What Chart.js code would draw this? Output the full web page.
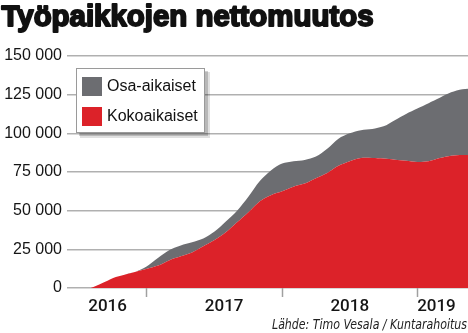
<!DOCTYPE html>
<html>
<head>
<meta charset="utf-8">
<script src="https://cdn.jsdelivr.net/npm/chart.js@4.4.1/dist/chart.umd.min.js"></script>
<style>
  html, body { margin: 0; padding: 0; background: #fff; }
  #wrap { position: relative; width: 468px; height: 333px; }
  canvas { display: block; }
</style>
</head>
<body>
<div id="wrap"><canvas id="c" width="468" height="333"></canvas></div>
<script>
// ---- Data ----
const titleText = 'Työpaikkojen nettomuutos';
const sourceText = 'Lähde: Timo Vesala / Kuntarahoitus';
const seriesNames = ['Osa-aikaiset', 'Kokoaikaiset'];

const months = [
  '2016-06','2016-07','2016-08','2016-09','2016-10','2016-11','2016-12',
  '2017-01','2017-02','2017-03','2017-04','2017-05','2017-06','2017-07','2017-08','2017-09','2017-10','2017-11','2017-12',
  '2018-01','2018-02','2018-03','2018-04','2018-05','2018-06','2018-07','2018-08','2018-09','2018-10','2018-11','2018-12',
  '2019-01','2019-02','2019-03','2019-04','2019-05','2019-06'
];
// Kokoaikaiset (full-time), cumulative net change
const fullTime = [
  0, 0, 0, 3000, 6500, 8500, 10500,
  12500, 14500, 18000, 20500, 23000, 27000, 31000, 36000, 42500, 49000, 56000, 60000,
  62500, 65500, 67500, 71000, 74400, 79000, 82000, 84000, 84000, 83700, 83000, 82300,
  81500, 82000, 84000, 85500, 86000, 86000
];
// Osa-aikaiset (part-time), stacked on top of full-time
const partTime = [
  0, 0, 0, 0, 0, 0, 0,
  1500, 5000, 6500, 7000, 6500, 5000, 5500, 7000, 7500, 10000, 13000, 16000,
  18000, 16500, 15300, 14000, 15600, 17500, 18000, 18000, 18800, 20800, 25500, 30200,
  34500, 37500, 39000, 41000, 42500, 43000
];
const yTicks = [0, 25000, 50000, 75000, 100000, 125000, 150000];
const years = ['2016', '2017', '2018', '2019'];
const yearBoundaries = ['2017-01', '2018-01', '2019-01'];
const yearLabelAt = ['2016-09.5', '2017-07.85', '2018-07', '2019-02.7'];

// ---- helpers ----
function monthIndex(s) {
  const [y, m] = s.split('-');
  return (parseInt(y, 10) - 2016) * 12 + (parseFloat(m) - 1);
}
const xs = months.map(monthIndex);

const RED = '#dc2229';
const GRAY = '#6c6d71';

const overlay = {
  id: 'overlay',
  afterDraw(chart) {
    const ctx = chart.ctx;
    ctx.save();
    // title
    ctx.fillStyle = '#111';
    ctx.textBaseline = 'alphabetic';
    ctx.textAlign = 'left';
    ctx.font = 'bold 29px "Liberation Sans", Arial, sans-serif';
    let w = ctx.measureText(titleText).width;
    ctx.save();
    ctx.translate(1.5, 26);
    ctx.scale(372 / w, 1);
    ctx.lineWidth = 1.9;
    ctx.lineJoin = 'round';
    ctx.strokeStyle = '#111';
    ctx.fillText(titleText, 0, 0);
    ctx.strokeText(titleText, 0, 0);
    ctx.restore();

    // source
    ctx.font = 'italic 14px "DejaVu Sans Condensed", "Liberation Sans", sans-serif';
    ctx.fillStyle = '#222';
    w = ctx.measureText(sourceText).width;
    ctx.save();
    ctx.translate(467, 329);
    ctx.scale(195 / w, 1);
    ctx.textAlign = 'right';
    ctx.fillText(sourceText, 0, 0);
    ctx.restore();

    // legend box
    const bx = 76, by = 68, bw = 129, bh = 65;
    ctx.fillStyle = 'rgba(0,0,0,0.18)';
    ctx.fillRect(bx + 3, by + 3, bw, bh);
    ctx.fillStyle = 'rgba(0,0,0,0.12)';
    ctx.fillRect(bx + 4, by + 4, bw + 1, bh + 1);
    ctx.fillStyle = '#fff';
    ctx.fillRect(bx, by, bw, bh);
    ctx.strokeStyle = '#9a9a9a';
    ctx.lineWidth = 1;
    ctx.strokeRect(bx + 0.5, by + 0.5, bw - 1, bh - 1);
    const order = [1, 0];
    ctx.font = '16px "Liberation Sans", Arial, sans-serif';
    ctx.textBaseline = 'middle';
    ctx.textAlign = 'left';
    order.forEach((di, i) => {
      const ds = chart.data.datasets[di];
      const y = 77 + i * 30;
      ctx.fillStyle = ds.backgroundColor;
      ctx.fillRect(82, y, 20, 19);
      ctx.fillStyle = '#111';
      ctx.fillText(ds.label, 107, y + 10);
    });
    ctx.restore();
  }
};

const chart = new Chart(document.getElementById('c'), {
  type: 'line',
  data: {
    datasets: [
      {
        label: seriesNames[1],
        data: xs.map((x, i) => ({ x, y: fullTime[i] })),
        backgroundColor: RED,
        borderColor: RED,
        borderWidth: 0,
        pointRadius: 0,
        tension: 0.3,
        fill: 'origin',
        order: 1
      },
      {
        label: seriesNames[0],
        data: xs.map((x, i) => ({ x, y: partTime[i] })),
        backgroundColor: GRAY,
        borderColor: GRAY,
        borderWidth: 0,
        pointRadius: 0,
        tension: 0.3,
        fill: '-1',
        order: 2
      }
    ]
  },
  options: {
    responsive: false,
    animation: false,
    events: [],
    layout: { padding: { top: 56, left: 0, right: 0, bottom: 0 } },
    plugins: {
      legend: { display: false },
      tooltip: { enabled: false },
      filler: { propagate: false }
    },
    scales: {
      x: {
        type: 'linear',
        min: 4.9,
        max: 40.5,
        border: { display: false },
        grid: {
          drawOnChartArea: false,
          drawTicks: true,
          tickLength: 9,
          tickWidth: 1.5,
          tickColor: (c) => (c.tick && c.tick.lab) ? 'rgba(0,0,0,0)' : '#a0a0a0'
        },
        afterBuildTicks: (s) => {
          const t = yearBoundaries.map(b => ({ value: monthIndex(b), lab: '' }));
          yearLabelAt.forEach((p, i) => t.push({ value: monthIndex(p), lab: years[i] }));
          t.sort((a, b) => a.value - b.value);
          s.ticks = t;
        },
        afterFit: (s) => { s.height = 45; },
        ticks: {
          autoSkip: false,
          maxRotation: 0,
          padding: 0,
          color: '#151515',
          font: { family: 'Roboto, "Liberation Sans", sans-serif', size: 17, weight: '500' },
          callback: (v, i, t) => t[i].lab
        }
      },
      y: {
        stacked: true,
        min: 0,
        max: 150000,
        z: 1,
        border: { display: false },
        grid: {
          color: 'rgba(165,165,165,0.88)',
          lineWidth: 1.5,
          drawTicks: false
        },
        afterBuildTicks: (s) => { s.ticks = yTicks.map(v => ({ value: v })); },
        afterFit: (s) => { s.width = 67; },
        ticks: {
          padding: 5,
          color: '#151515',
          font: { family: '"Liberation Sans", Arial, sans-serif', size: 16 },
          callback: (v) => v === 0 ? '0' : String(v).replace(/\B(?=(\d{3})+(?!\d))/g, ' ')
        }
      }
    }
  },
  plugins: [overlay]
});
</script>
</body>
</html>
